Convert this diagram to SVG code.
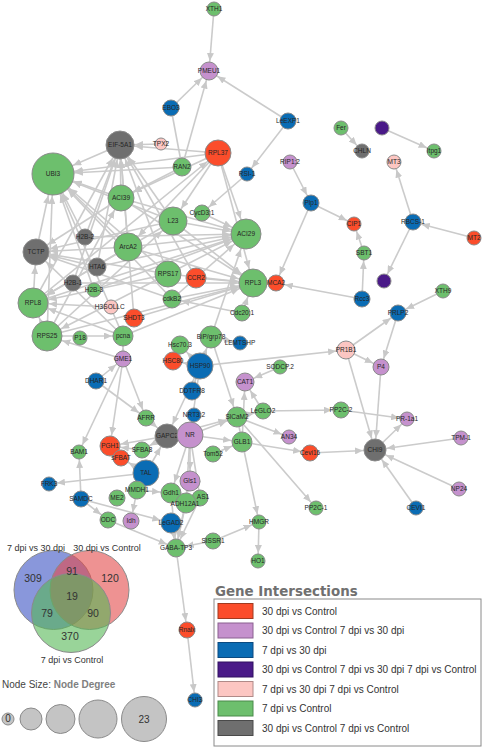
<svg xmlns="http://www.w3.org/2000/svg" width="484" height="749" viewBox="0 0 484 749">
<style>
.e{stroke:#cbcbcb;stroke-width:1.6;fill:none}
.t6{marker-end:url(#a6)}.t7{marker-end:url(#a7)}.t8{marker-end:url(#a8)}.t9{marker-end:url(#a9)}.t10{marker-end:url(#a10)}.t11{marker-end:url(#a11)}.t12{marker-end:url(#a12)}.t13{marker-end:url(#a13)}.t14{marker-end:url(#a14)}.t15{marker-end:url(#a15)}.t21{marker-end:url(#a21)}
circle{stroke:#8a8a8a;stroke-width:1}
.red{fill:#fb4d2b}.pur{fill:#c591cd}.blu{fill:#0a6cb4}.dpu{fill:#4a1a88}.pnk{fill:#fcc6c2}.grn{fill:#6dbf6d}.gry{fill:#6f6f6f}
.node text{font-family:"Liberation Sans",Arial,sans-serif;font-size:6.5px;fill:#262626;text-anchor:middle}
.venn text{font-family:"Liberation Sans",Arial,sans-serif;fill:#333;text-anchor:middle}
.leg text{font-family:"Liberation Sans",Arial,sans-serif;font-size:10px;fill:#333}
.leg text.title{font-family:"DejaVu Sans",Verdana,sans-serif;font-weight:bold;font-size:13.4px;fill:#707070}
</style>
<defs>
<marker id="a6" markerUnits="userSpaceOnUse" markerWidth="8" markerHeight="7" refX="15" refY="3.5" orient="auto"><path d="M0,0 L8,3.5 L0,7 z" fill="#c8c8c8"/></marker>
<marker id="a7" markerUnits="userSpaceOnUse" markerWidth="8" markerHeight="7" refX="16" refY="3.5" orient="auto"><path d="M0,0 L8,3.5 L0,7 z" fill="#c8c8c8"/></marker>
<marker id="a8" markerUnits="userSpaceOnUse" markerWidth="8" markerHeight="7" refX="17" refY="3.5" orient="auto"><path d="M0,0 L8,3.5 L0,7 z" fill="#c8c8c8"/></marker>
<marker id="a9" markerUnits="userSpaceOnUse" markerWidth="8" markerHeight="7" refX="18" refY="3.5" orient="auto"><path d="M0,0 L8,3.5 L0,7 z" fill="#c8c8c8"/></marker>
<marker id="a10" markerUnits="userSpaceOnUse" markerWidth="8" markerHeight="7" refX="19" refY="3.5" orient="auto"><path d="M0,0 L8,3.5 L0,7 z" fill="#c8c8c8"/></marker>
<marker id="a11" markerUnits="userSpaceOnUse" markerWidth="8" markerHeight="7" refX="20" refY="3.5" orient="auto"><path d="M0,0 L8,3.5 L0,7 z" fill="#c8c8c8"/></marker>
<marker id="a12" markerUnits="userSpaceOnUse" markerWidth="8" markerHeight="7" refX="21" refY="3.5" orient="auto"><path d="M0,0 L8,3.5 L0,7 z" fill="#c8c8c8"/></marker>
<marker id="a13" markerUnits="userSpaceOnUse" markerWidth="8" markerHeight="7" refX="22" refY="3.5" orient="auto"><path d="M0,0 L8,3.5 L0,7 z" fill="#c8c8c8"/></marker>
<marker id="a14" markerUnits="userSpaceOnUse" markerWidth="8" markerHeight="7" refX="23" refY="3.5" orient="auto"><path d="M0,0 L8,3.5 L0,7 z" fill="#c8c8c8"/></marker>
<marker id="a15" markerUnits="userSpaceOnUse" markerWidth="8" markerHeight="7" refX="24" refY="3.5" orient="auto"><path d="M0,0 L8,3.5 L0,7 z" fill="#c8c8c8"/></marker>
<marker id="a21" markerUnits="userSpaceOnUse" markerWidth="8" markerHeight="7" refX="30" refY="3.5" orient="auto"><path d="M0,0 L8,3.5 L0,7 z" fill="#c8c8c8"/></marker>
</defs>
<rect width="484" height="749" fill="#fff"/>
<g id="connectors">
<line class="e t9" x1="214" y1="9" x2="209" y2="71"/>
<line class="e t9" x1="171" y1="108" x2="209" y2="71"/>
<line class="e t9" x1="182" y1="167" x2="209" y2="71"/>
<line class="e t9" x1="288" y1="121" x2="209" y2="71"/>
<line class="e t7" x1="288" y1="121" x2="247" y2="174"/>
<line class="e" x1="171" y1="108" x2="182" y2="167"/>
<line class="e t7" x1="341" y1="128" x2="362" y2="151"/>
<line class="e t7" x1="382" y1="128" x2="434" y2="151"/>
<line class="e t7" x1="413" y1="222" x2="394" y2="162"/>
<line class="e t8" x1="474" y1="238" x2="413" y2="222"/>
<line class="e t7" x1="413" y1="222" x2="384" y2="281"/>
<line class="e t7" x1="311" y1="203" x2="354" y2="224"/>
<line class="e t7" x1="364" y1="253" x2="354" y2="224"/>
<line class="e t7" x1="362" y1="299" x2="364" y2="253"/>
<line class="e t8" x1="362" y1="299" x2="276" y2="283"/>
<line class="e t8" x1="311" y1="203" x2="276" y2="283"/>
<line class="e t8" x1="290" y1="162" x2="311" y2="203"/>
<line class="e t8" x1="443" y1="291" x2="398" y2="313"/>
<line class="e t8" x1="346" y1="350" x2="398" y2="313"/>
<line class="e t8" x1="398" y1="313" x2="381" y2="367"/>
<line class="e t8" x1="346" y1="350" x2="381" y2="367"/>
<line class="e t9" x1="200" y1="366" x2="346" y2="350"/>
<line class="e t11" x1="346" y1="350" x2="375" y2="450"/>
<line class="e t11" x1="381" y1="367" x2="375" y2="450"/>
<line class="e t7" x1="341" y1="410" x2="407" y2="419"/>
<line class="e t7" x1="375" y1="450" x2="407" y2="419"/>
<line class="e t11" x1="461" y1="438" x2="375" y2="450"/>
<line class="e t11" x1="459" y1="489" x2="375" y2="450"/>
<line class="e t11" x1="416" y1="508" x2="375" y2="450"/>
<line class="e t11" x1="310" y1="453" x2="375" y2="450"/>
<line class="e t8" x1="242" y1="442" x2="310" y2="453"/>
<line class="e t8" x1="263" y1="411" x2="341" y2="410"/>
<line class="e t7" x1="237" y1="417" x2="316" y2="508"/>
<line class="e t7" x1="237" y1="417" x2="289" y2="437"/>
<line class="e t9" x1="280" y1="367" x2="245" y2="382"/>
<line class="e t9" x1="263" y1="411" x2="245" y2="382"/>
<line class="e t9" x1="242" y1="442" x2="245" y2="382"/>
<line class="e t8" x1="237" y1="417" x2="263" y2="411"/>
<line class="e t7" x1="211" y1="337" x2="240" y2="343"/>
<line class="e t10" x1="211" y1="337" x2="237" y2="417"/>
<line class="e t11" x1="200" y1="366" x2="211" y2="337"/>
<line class="e t10" x1="190" y1="435" x2="237" y2="417"/>
<line class="e t10" x1="167" y1="436" x2="237" y2="417"/>
<line class="e t13" x1="194" y1="415" x2="190" y2="435"/>
<line class="e t13" x1="192" y1="391" x2="200" y2="366"/>
<line class="e t10" x1="190" y1="435" x2="242" y2="442"/>
<line class="e t10" x1="213" y1="454" x2="242" y2="442"/>
<line class="e t7" x1="237" y1="417" x2="259" y2="522"/>
<line class="e t7" x1="259" y1="522" x2="258" y2="561"/>
<line class="e t7" x1="213" y1="541" x2="259" y2="522"/>
<line class="e t9" x1="213" y1="541" x2="176" y2="548"/>
<line class="e t8" x1="176" y1="548" x2="187" y2="630"/>
<line class="e t7" x1="187" y1="630" x2="195" y2="700"/>
<line class="e t9" x1="171" y1="523" x2="176" y2="548"/>
<line class="e t9" x1="171" y1="493" x2="176" y2="548"/>
<line class="e t9" x1="186" y1="503" x2="176" y2="548"/>
<line class="e t9" x1="200" y1="498" x2="176" y2="548"/>
<line class="e t9" x1="190" y1="481" x2="176" y2="548"/>
<line class="e t9" x1="108" y1="520" x2="176" y2="548"/>
<line class="e t10" x1="81" y1="499" x2="171" y2="523"/>
<line class="e t8" x1="81" y1="499" x2="108" y2="520"/>
<line class="e t7" x1="81" y1="499" x2="79" y2="452"/>
<line class="e t7" x1="146" y1="473" x2="49" y2="484"/>
<line class="e t8" x1="137" y1="490" x2="131" y2="521"/>
<line class="e t10" x1="137" y1="490" x2="171" y2="493"/>
<line class="e t9" x1="146" y1="473" x2="137" y2="490"/>
<line class="e t10" x1="167" y1="436" x2="110" y2="446"/>
<line class="e t8" x1="167" y1="436" x2="142" y2="450"/>
<line class="e t12" x1="146" y1="473" x2="167" y2="436"/>
<line class="e t8" x1="146" y1="473" x2="121" y2="458"/>
<line class="e t10" x1="142" y1="450" x2="110" y2="446"/>
<line class="e t10" x1="190" y1="435" x2="190" y2="481"/>
<line class="e t10" x1="190" y1="435" x2="171" y2="493"/>
<line class="e t10" x1="190" y1="435" x2="186" y2="503"/>
<line class="e t8" x1="190" y1="435" x2="200" y2="498"/>
<line class="e t12" x1="190" y1="435" x2="167" y2="436"/>
<line class="e t13" x1="200" y1="366" x2="190" y2="435"/>
<line class="e t12" x1="200" y1="366" x2="167" y2="436"/>
<line class="e t12" x1="146" y1="418" x2="167" y2="436"/>
<line class="e t8" x1="123" y1="359" x2="146" y2="418"/>
<line class="e t8" x1="96" y1="381" x2="146" y2="418"/>
<line class="e t8" x1="96" y1="381" x2="123" y2="359"/>
<line class="e t10" x1="123" y1="359" x2="123" y2="336"/>
<line class="e t15" x1="123" y1="359" x2="47" y2="336"/>
<line class="e t10" x1="47" y1="336" x2="123" y2="336"/>
<line class="e t7" x1="123" y1="359" x2="79" y2="452"/>
<line class="e t10" x1="123" y1="359" x2="110" y2="446"/>
<line class="e t9" x1="200" y1="366" x2="180" y2="345"/>
<line class="e t9" x1="200" y1="366" x2="173" y2="361"/>
<line class="e t15" x1="211" y1="337" x2="246" y2="234"/>
<line class="e t9" x1="242" y1="313" x2="172" y2="299"/>
<line class="e t8" x1="247" y1="174" x2="202" y2="213"/>
<line class="e t14" x1="161" y1="144" x2="120" y2="145"/>
<line class="e t14" x1="218" y1="153" x2="120" y2="145"/>
<line class="e t21" x1="218" y1="153" x2="53" y2="174"/>
<line class="e t13" x1="218" y1="153" x2="121" y2="198"/>
<line class="e t14" x1="218" y1="153" x2="173" y2="221"/>
<line class="e t15" x1="218" y1="153" x2="246" y2="234"/>
<line class="e t14" x1="218" y1="153" x2="253" y2="283"/>
<line class="e t14" x1="218" y1="153" x2="128" y2="247"/>
<line class="e t21" x1="182" y1="167" x2="53" y2="174"/>
<line class="e t13" x1="182" y1="167" x2="121" y2="198"/>
<line class="e t21" x1="120" y1="145" x2="53" y2="174"/>
<line class="e t21" x1="121" y1="198" x2="53" y2="174"/>
<line class="e t14" x1="121" y1="198" x2="120" y2="145"/>
<line class="e t15" x1="121" y1="198" x2="246" y2="234"/>
<line class="e t14" x1="121" y1="198" x2="253" y2="283"/>
<line class="e t13" x1="121" y1="198" x2="36" y2="252"/>
<line class="e t14" x1="173" y1="221" x2="120" y2="145"/>
<line class="e t21" x1="173" y1="221" x2="53" y2="174"/>
<line class="e t15" x1="173" y1="221" x2="246" y2="234"/>
<line class="e t14" x1="173" y1="221" x2="253" y2="283"/>
<line class="e t13" x1="173" y1="221" x2="36" y2="252"/>
<line class="e t21" x1="128" y1="247" x2="53" y2="174"/>
<line class="e t14" x1="128" y1="247" x2="120" y2="145"/>
<line class="e t15" x1="128" y1="247" x2="246" y2="234"/>
<line class="e t14" x1="128" y1="247" x2="253" y2="283"/>
<line class="e t13" x1="128" y1="247" x2="36" y2="252"/>
<line class="e t15" x1="128" y1="247" x2="33" y2="303"/>
<line class="e t21" x1="168" y1="274" x2="53" y2="174"/>
<line class="e t14" x1="168" y1="274" x2="120" y2="145"/>
<line class="e t15" x1="168" y1="274" x2="246" y2="234"/>
<line class="e t14" x1="168" y1="274" x2="253" y2="283"/>
<line class="e t13" x1="168" y1="274" x2="36" y2="252"/>
<line class="e t15" x1="168" y1="274" x2="33" y2="303"/>
<line class="e t21" x1="36" y1="252" x2="53" y2="174"/>
<line class="e t13" x1="33" y1="303" x2="36" y2="252"/>
<line class="e t14" x1="33" y1="303" x2="120" y2="145"/>
<line class="e t15" x1="33" y1="303" x2="246" y2="234"/>
<line class="e t13" x1="33" y1="303" x2="218" y2="153"/>
<line class="e t15" x1="47" y1="336" x2="33" y2="303"/>
<line class="e t21" x1="47" y1="336" x2="53" y2="174"/>
<line class="e t13" x1="47" y1="336" x2="121" y2="198"/>
<line class="e t14" x1="47" y1="336" x2="173" y2="221"/>
<line class="e t14" x1="47" y1="336" x2="253" y2="283"/>
<line class="e t21" x1="85" y1="237" x2="53" y2="174"/>
<line class="e t14" x1="85" y1="237" x2="120" y2="145"/>
<line class="e t15" x1="85" y1="237" x2="246" y2="234"/>
<line class="e t14" x1="97" y1="267" x2="120" y2="145"/>
<line class="e t15" x1="97" y1="267" x2="246" y2="234"/>
<line class="e t13" x1="97" y1="267" x2="36" y2="252"/>
<line class="e t14" x1="73" y1="283" x2="120" y2="145"/>
<line class="e t14" x1="73" y1="283" x2="253" y2="283"/>
<line class="e t15" x1="94" y1="290" x2="246" y2="234"/>
<line class="e t21" x1="94" y1="290" x2="53" y2="174"/>
<line class="e t21" x1="172" y1="299" x2="53" y2="174"/>
<line class="e t13" x1="172" y1="299" x2="36" y2="252"/>
<line class="e t15" x1="172" y1="299" x2="246" y2="234"/>
<line class="e t14" x1="172" y1="299" x2="253" y2="283"/>
<line class="e t14" x1="196" y1="278" x2="253" y2="283"/>
<line class="e t14" x1="196" y1="278" x2="120" y2="145"/>
<line class="e t21" x1="123" y1="336" x2="53" y2="174"/>
<line class="e t13" x1="123" y1="336" x2="36" y2="252"/>
<line class="e t15" x1="123" y1="336" x2="33" y2="303"/>
<line class="e t14" x1="123" y1="336" x2="253" y2="283"/>
<line class="e t14" x1="134" y1="318" x2="120" y2="145"/>
<line class="e t14" x1="134" y1="318" x2="253" y2="283"/>
<line class="e t15" x1="111" y1="307" x2="33" y2="303"/>
<line class="e t15" x1="202" y1="213" x2="246" y2="234"/>
<line class="e t14" x1="242" y1="313" x2="253" y2="283"/>
<line class="e t15" x1="168" y1="274" x2="47" y2="336"/>
<line class="e t15" x1="173" y1="221" x2="33" y2="303"/>
</g>
<g class="node" id="n-XTH1"><circle class="grn" cx="214" cy="9" r="7"/><text x="214" y="11.3">XTH1</text></g>
<g class="node" id="n-PMEU1"><circle class="pur" cx="209" cy="71" r="9"/><text x="209" y="73.3">PMEU1</text></g>
<g class="node" id="n-EBO3"><circle class="blu" cx="171" cy="108" r="8"/><text x="171" y="110.3">EBO3</text></g>
<g class="node" id="n-LeEXP1"><circle class="blu" cx="288" cy="121" r="8"/><text x="288" y="123.3">LeEXP1</text></g>
<g class="node" id="n-Fer"><circle class="grn" cx="341" cy="128" r="7"/><text x="341" y="130.3">Fer</text></g>
<g class="node" id="n-V1"><circle class="dpu" cx="382" cy="128" r="7"/></g>
<g class="node" id="n-CHLN"><circle class="gry" cx="362" cy="151" r="7"/><text x="362" y="153.3">CHLN</text></g>
<g class="node" id="n-Itpg1"><circle class="grn" cx="434" cy="151" r="7"/><text x="434" y="153.3">Itpg1</text></g>
<g class="node" id="n-MT3"><circle class="pnk" cx="394" cy="162" r="7"/><text x="394" y="164.3">MT3</text></g>
<g class="node" id="n-RIP12"><circle class="pur" cx="290" cy="162" r="7"/><text x="290" y="164.3">RIP1;2</text></g>
<g class="node" id="n-RSI1"><circle class="blu" cx="247" cy="174" r="7"/><text x="247" y="176.3">RSI-1</text></g>
<g class="node" id="n-Plp1"><circle class="blu" cx="311" cy="203" r="8"/><text x="311" y="205.3">Plp1</text></g>
<g class="node" id="n-CIP1"><circle class="red" cx="354" cy="224" r="7"/><text x="354" y="226.3">CIP1</text></g>
<g class="node" id="n-RBCS1"><circle class="blu" cx="413" cy="222" r="8"/><text x="413" y="224.3">RBCS-1</text></g>
<g class="node" id="n-MT2"><circle class="red" cx="474" cy="238" r="7"/><text x="474" y="240.3">MT2</text></g>
<g class="node" id="n-SBT1"><circle class="grn" cx="364" cy="253" r="7"/><text x="364" y="255.3">SBT1</text></g>
<g class="node" id="n-V2"><circle class="dpu" cx="384" cy="281" r="7"/></g>
<g class="node" id="n-XTH9"><circle class="grn" cx="443" cy="291" r="7"/><text x="443" y="293.3">XTH9</text></g>
<g class="node" id="n-Rcc3"><circle class="blu" cx="362" cy="299" r="8"/><text x="362" y="301.3">Rcc3</text></g>
<g class="node" id="n-PRLP2"><circle class="blu" cx="398" cy="313" r="8"/><text x="398" y="315.3">PRLP2</text></g>
<g class="node" id="n-PR1B1"><circle class="pnk" cx="346" cy="350" r="9"/><text x="346" y="352.3">PR1B1</text></g>
<g class="node" id="n-P4"><circle class="pur" cx="381" cy="367" r="8"/><text x="381" y="369.3">P4</text></g>
<g class="node" id="n-TPX2"><circle class="pnk" cx="161" cy="144" r="6"/><text x="161" y="146.3">TPX2</text></g>
<g class="node" id="n-EIF"><circle class="gry" cx="120" cy="145" r="14"/><text x="120" y="147.3">EIF-5A1</text></g>
<g class="node" id="n-UBI3"><circle class="grn" cx="53" cy="174" r="21"/><text x="53" y="176.3">UBI3</text></g>
<g class="node" id="n-RPL37"><circle class="red" cx="218" cy="153" r="13"/><text x="218" y="155.3">RPL37</text></g>
<g class="node" id="n-RAN2"><circle class="grn" cx="182" cy="167" r="9"/><text x="182" y="169.3">RAN2</text></g>
<g class="node" id="n-ACI39"><circle class="grn" cx="121" cy="198" r="13"/><text x="121" y="200.3">ACI39</text></g>
<g class="node" id="n-CycD31"><circle class="grn" cx="202" cy="213" r="8"/><text x="202" y="215.3">CycD3;1</text></g>
<g class="node" id="n-L23"><circle class="grn" cx="173" cy="221" r="14"/><text x="173" y="223.3">L23</text></g>
<g class="node" id="n-ACI29"><circle class="grn" cx="246" cy="234" r="15"/><text x="246" y="236.3">ACI29</text></g>
<g class="node" id="n-H2B2"><circle class="gry" cx="85" cy="237" r="8"/><text x="85" y="239.3">H2B-2</text></g>
<g class="node" id="n-TCTP"><circle class="gry" cx="36" cy="252" r="13"/><text x="36" y="254.3">TCTP</text></g>
<g class="node" id="n-ArcA2"><circle class="grn" cx="128" cy="247" r="14"/><text x="128" y="249.3">ArcA2</text></g>
<g class="node" id="n-HTA6"><circle class="gry" cx="97" cy="267" r="9"/><text x="97" y="269.3">HTA6</text></g>
<g class="node" id="n-RPS17"><circle class="grn" cx="168" cy="274" r="13"/><text x="168" y="276.3">RPS17</text></g>
<g class="node" id="n-CCR2"><circle class="red" cx="196" cy="278" r="10"/><text x="196" y="280.3">CCR2</text></g>
<g class="node" id="n-RPL3"><circle class="grn" cx="253" cy="283" r="14"/><text x="253" y="285.3">RPL3</text></g>
<g class="node" id="n-MCA2"><circle class="red" cx="276" cy="283" r="8"/><text x="276" y="285.3">MCA2</text></g>
<g class="node" id="n-H2B1"><circle class="gry" cx="73" cy="283" r="8"/><text x="73" y="285.3">H2B-1</text></g>
<g class="node" id="n-H2B3"><circle class="grn" cx="94" cy="290" r="7"/><text x="94" y="292.3">H2B-3</text></g>
<g class="node" id="n-cdkB2"><circle class="grn" cx="172" cy="299" r="9"/><text x="172" y="301.3">cdkB2</text></g>
<g class="node" id="n-Cdc201"><circle class="grn" cx="242" cy="313" r="8"/><text x="242" y="315.3">Cdc20;1</text></g>
<g class="node" id="n-RPL8"><circle class="grn" cx="33" cy="303" r="15"/><text x="33" y="305.3">RPL8</text></g>
<g class="node" id="n-SOLLC"><text x="99" y="309.3">H3</text><circle class="pnk" cx="111" cy="307" r="7"/><text x="114" y="309.3">SOLLC</text></g>
<g class="node" id="n-SHDT3"><circle class="red" cx="134" cy="318" r="9"/><text x="134" y="320.3">SHDT3</text></g>
<g class="node" id="n-RPS25"><circle class="grn" cx="47" cy="336" r="15"/><text x="47" y="338.3">RPS25</text></g>
<g class="node" id="n-P18"><circle class="grn" cx="80" cy="338" r="7"/><text x="80" y="340.3">P18</text></g>
<g class="node" id="n-pcna"><circle class="grn" cx="123" cy="336" r="10"/><text x="123" y="338.3">pcna</text></g>
<g class="node" id="n-GME1"><circle class="pur" cx="123" cy="359" r="8"/><text x="123" y="361.3">GME1</text></g>
<g class="node" id="n-DHAR1"><circle class="blu" cx="96" cy="381" r="8"/><text x="96" y="383.3">DHAR1</text></g>
<g class="node" id="n-Hsc703"><circle class="grn" cx="180" cy="345" r="9"/><text x="180" y="347.3">Hsc70.3</text></g>
<g class="node" id="n-HSC80"><circle class="red" cx="173" cy="361" r="9"/><text x="173" y="363.3">HSC80</text></g>
<g class="node" id="n-BiP"><circle class="grn" cx="211" cy="337" r="11"/><text x="211" y="339.3">BiP/grp78</text></g>
<g class="node" id="n-LEMTSHP"><circle class="blu" cx="240" cy="343" r="7"/><text x="240" y="345.3">LEMTSHP</text></g>
<g class="node" id="n-HSP90"><circle class="blu" cx="200" cy="366" r="13"/><text x="200" y="368.3">HSP90</text></g>
<g class="node" id="n-SODCP2"><circle class="grn" cx="280" cy="367" r="7"/><text x="280" y="369.3">SODCP.2</text></g>
<g class="node" id="n-CAT1"><circle class="pur" cx="245" cy="382" r="9"/><text x="245" y="384.3">CAT1</text></g>
<g class="node" id="n-DDTFR8"><circle class="blu" cx="192" cy="391" r="9"/><text x="192" y="393.3">DDTFR8</text></g>
<g class="node" id="n-NRT32"><circle class="blu" cx="194" cy="415" r="7"/><text x="194" y="417.3">NRT3;2</text></g>
<g class="node" id="n-AFRR"><circle class="grn" cx="146" cy="418" r="8"/><text x="146" y="420.3">AFRR</text></g>
<g class="node" id="n-LeGLO2"><circle class="grn" cx="263" cy="411" r="8"/><text x="263" y="413.3">LeGLO2</text></g>
<g class="node" id="n-SlCaM2"><circle class="grn" cx="237" cy="417" r="10"/><text x="237" y="419.3">SlCaM2</text></g>
<g class="node" id="n-PP2C2"><circle class="grn" cx="341" cy="410" r="8"/><text x="341" y="412.3">PP2C-2</text></g>
<g class="node" id="n-PR1a1"><circle class="pur" cx="407" cy="419" r="7"/><text x="407" y="421.3">PR-1a1</text></g>
<g class="node" id="n-AN34"><circle class="pur" cx="289" cy="437" r="7"/><text x="289" y="439.3">AN34</text></g>
<g class="node" id="n-TPM1"><circle class="pur" cx="461" cy="438" r="7"/><text x="461" y="440.3">TPM-1</text></g>
<g class="node" id="n-CHI9"><circle class="gry" cx="375" cy="450" r="11"/><text x="375" y="452.3">CHI9</text></g>
<g class="node" id="n-Cevi16"><circle class="red" cx="310" cy="453" r="8"/><text x="310" y="455.3">Cevi16</text></g>
<g class="node" id="n-GAPC2"><circle class="gry" cx="167" cy="436" r="12"/><text x="167" y="438.3">GAPC2</text></g>
<g class="node" id="n-NR"><circle class="pur" cx="190" cy="435" r="13"/><text x="190" y="437.3">NR</text></g>
<g class="node" id="n-GLB1"><circle class="grn" cx="242" cy="442" r="10"/><text x="242" y="444.3">GLB1</text></g>
<g class="node" id="n-Tom52"><circle class="grn" cx="213" cy="454" r="8"/><text x="213" y="456.3">Tom52</text></g>
<g class="node" id="n-PGH1"><circle class="red" cx="110" cy="446" r="10"/><text x="110" y="448.3">PGH1</text></g>
<g class="node" id="n-SFBA8"><circle class="grn" cx="142" cy="450" r="8"/><text x="142" y="452.3">SFBA8</text></g>
<g class="node" id="n-sFBAT"><circle class="red" cx="121" cy="458" r="8"/><text x="121" y="460.3">sFBAT</text></g>
<g class="node" id="n-BAM1"><circle class="grn" cx="79" cy="452" r="7"/><text x="79" y="454.3">BAM1</text></g>
<g class="node" id="n-TAL"><circle class="blu" cx="146" cy="473" r="13"/><text x="146" y="475.3">TAL</text></g>
<g class="node" id="n-FRK3"><circle class="blu" cx="49" cy="484" r="7"/><text x="49" y="486.3">FRK3</text></g>
<g class="node" id="n-Gls1"><circle class="pur" cx="190" cy="481" r="10"/><text x="190" y="483.3">Gls1</text></g>
<g class="node" id="n-NP24"><circle class="pur" cx="459" cy="489" r="7"/><text x="459" y="491.3">NP24</text></g>
<g class="node" id="n-MMDH1"><circle class="grn" cx="137" cy="490" r="9"/><text x="137" y="492.3">MMDH1</text></g>
<g class="node" id="n-Gdh1"><circle class="grn" cx="171" cy="493" r="10"/><text x="171" y="495.3">Gdh1</text></g>
<g class="node" id="n-AS1"><circle class="grn" cx="200" cy="498" r="8"/><text x="203" y="499.3">AS1</text></g>
<g class="node" id="n-ADH12A1"><circle class="grn" cx="186" cy="503" r="10"/><text x="185" y="505.8">ADH12A1</text></g>
<g class="node" id="n-ME2"><circle class="grn" cx="117" cy="498" r="8"/><text x="117" y="500.3">ME2</text></g>
<g class="node" id="n-SAMDC"><circle class="blu" cx="81" cy="499" r="8"/><text x="81" y="501.3">SAMDC</text></g>
<g class="node" id="n-PP2C1"><circle class="grn" cx="316" cy="508" r="7"/><text x="316" y="510.3">PP2C-1</text></g>
<g class="node" id="n-CEVI1"><circle class="blu" cx="416" cy="508" r="7"/><text x="416" y="510.3">CEVI1</text></g>
<g class="node" id="n-ODC"><circle class="grn" cx="108" cy="520" r="8"/><text x="108" y="522.3">ODC</text></g>
<g class="node" id="n-Idh"><circle class="pur" cx="131" cy="521" r="8"/><text x="131" y="523.3">Idh</text></g>
<g class="node" id="n-LeGAD2"><circle class="blu" cx="171" cy="523" r="10"/><text x="171" y="525.3">LeGAD2</text></g>
<g class="node" id="n-HMGR"><circle class="grn" cx="259" cy="522" r="7"/><text x="259" y="524.3">HMGR</text></g>
<g class="node" id="n-SISSR1"><circle class="grn" cx="213" cy="541" r="8"/><text x="213" y="543.3">SISSR1</text></g>
<g class="node" id="n-GABATP3"><circle class="grn" cx="176" cy="548" r="9"/><text x="176" y="550.3">GABA-TP3</text></g>
<g class="node" id="n-HO1"><circle class="grn" cx="258" cy="561" r="7"/><text x="258" y="563.3">HO1</text></g>
<g class="node" id="n-Rnalx"><circle class="red" cx="187" cy="630" r="8"/><text x="187" y="632.3">Rnalx</text></g>
<g class="node" id="n-CHI3"><circle class="blu" cx="195" cy="700" r="7"/><text x="195" y="702.3">CHI3</text></g>
<g class="venn" id="venn">
<circle cx="53.5" cy="590" r="39.5" fill="#4a5fc8" fill-opacity="0.65" stroke="#6a7ad0" stroke-width="0.8"/>
<circle cx="89.5" cy="590" r="39.5" fill="#e24a4a" fill-opacity="0.6" stroke="#e07070" stroke-width="0.8"/>
<circle cx="71" cy="613" r="39.5" fill="#55b855" fill-opacity="0.6" stroke="#70c070" stroke-width="0.8"/>
<text x="36" y="551" font-size="9">7 dpi vs 30 dpi</text>
<text x="107" y="551" font-size="9">30 dpi vs Control</text>
<text x="72" y="663" font-size="9">7 dpi vs Control</text>
<text x="33" y="582" font-size="10.5">309</text>
<text x="72" y="575" font-size="10.5">91</text>
<text x="110" y="582" font-size="10.5">120</text>
<text x="72" y="600" font-size="10.5">19</text>
<text x="47" y="617" font-size="10.5">79</text>
<text x="93" y="617" font-size="10.5">90</text>
<text x="70" y="640" font-size="10.5">370</text>
</g>
<g id="size-legend" class="leg">
<text x="2" y="688"><tspan fill="#444">Node Size: </tspan><tspan font-weight="bold" style="fill:#808080">Node Degree</tspan></text>
<circle cx="8" cy="719" r="6" fill="#c4c4c4" stroke="#777"/>
<circle cx="31" cy="719" r="11" fill="#c4c4c4" stroke="#777"/>
<circle cx="60.5" cy="719" r="14.5" fill="#c4c4c4" stroke="#777"/>
<circle cx="98" cy="719" r="19" fill="#c4c4c4" stroke="#777"/>
<circle cx="144" cy="719" r="22.5" fill="#c4c4c4" stroke="#777"/>
<text x="8" y="722" font-size="9" text-anchor="middle">0</text>
<text x="144" y="723" font-size="11" text-anchor="middle">23</text>
</g>
<g id="color-legend" class="leg">
<text class="title" x="215" y="596">Gene Intersections</text>
<rect x="214" y="599" width="267" height="147" fill="#fff" stroke="#8a8a8a"/>
<rect x="218" y="603.5" width="35" height="15" fill="#fb4d2b" stroke="#a03a20"/>
<rect x="218" y="623" width="35" height="15" fill="#c591cd" stroke="#8a6090"/>
<rect x="218" y="642.5" width="35" height="15" fill="#0a6cb4" stroke="#0a4a80"/>
<rect x="218" y="662" width="35" height="15" fill="#4a1a88" stroke="#301060"/>
<rect x="218" y="681.5" width="35" height="15" fill="#fcc6c2" stroke="#b08a88"/>
<rect x="218" y="701" width="35" height="15" fill="#6dbf6d" stroke="#4a8a4a"/>
<rect x="218" y="720.5" width="35" height="15" fill="#6f6f6f" stroke="#4a4a4a"/>
<text x="262" y="614.5">30 dpi vs Control</text>
<text x="262" y="634">30 dpi vs Control 7 dpi vs 30 dpi</text>
<text x="262" y="653.5">7 dpi vs 30 dpi</text>
<text x="262" y="673">30 dpi vs Control 7 dpi vs 30 dpi 7 dpi vs Control</text>
<text x="262" y="692.5">7 dpi vs 30 dpi 7 dpi vs Control</text>
<text x="262" y="712">7 dpi vs Control</text>
<text x="262" y="731.5">30 dpi vs Control 7 dpi vs Control</text>
</g>
</svg>
